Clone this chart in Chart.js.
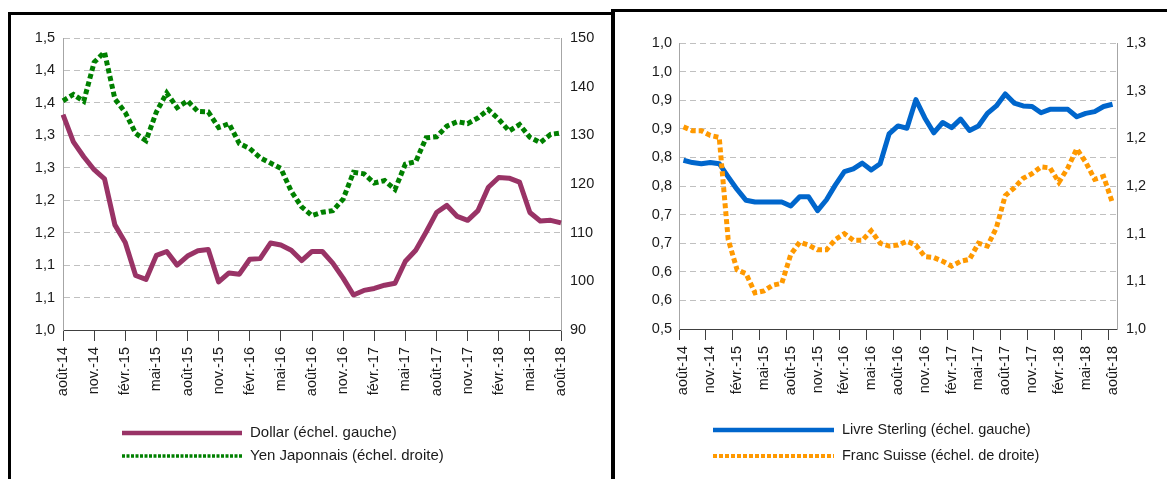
<!DOCTYPE html>
<html lang="fr">
<head>
<meta charset="utf-8">
<script src="https://cdn.jsdelivr.net/npm/chart.js@4.4.1/dist/chart.umd.min.js"></script>
<style>
html,body{margin:0;padding:0;background:#fff;}
body{width:1167px;height:479px;position:relative;overflow:hidden;}
.panel{position:absolute;}
.panel canvas{display:block;}
.rule{position:absolute;background:#000;z-index:2;}
</style>
</head>
<body>
<div class="panel" style="left:11px;top:15px;width:600px;height:464px;"><canvas id="usdJpy" width="600" height="464"></canvas></div>
<div class="panel" style="left:615px;top:12px;width:552px;height:467px;"><canvas id="gbpChf" width="552" height="467"></canvas></div>
<div class="rule" style="left:8px;top:12px;width:3px;height:467px;"></div>
<div class="rule" style="left:8px;top:12px;width:605px;height:3px;"></div>
<div class="rule" style="left:611px;top:9px;width:4px;height:470px;"></div>
<div class="rule" style="left:611px;top:9px;width:556px;height:3px;"></div>
<script>
// Monthly categories, août 2014 to août 2018
const months = ['août-14','sept.-14','oct.-14','nov.-14','déc.-14',
  'janv.-15','févr.-15','mars-15','avr.-15','mai-15','juin-15','juil.-15','août-15','sept.-15','oct.-15','nov.-15','déc.-15',
  'janv.-16','févr.-16','mars-16','avr.-16','mai-16','juin-16','juil.-16','août-16','sept.-16','oct.-16','nov.-16','déc.-16',
  'janv.-17','févr.-17','mars-17','avr.-17','mai-17','juin-17','juil.-17','août-17','sept.-17','oct.-17','nov.-17','déc.-17',
  'janv.-18','févr.-18','mars-18','avr.-18','mai-18','juin-18','juil.-18','août-18'];

// EUR exchange rates, monthly
const dollar = [1.332,1.290,1.267,1.247,1.233,
  1.162,1.135,1.084,1.078,1.115,1.121,1.100,1.114,1.122,1.124,1.074,1.088,
  1.086,1.109,1.110,1.134,1.131,1.123,1.107,1.121,1.121,1.103,1.080,1.054,
  1.061,1.064,1.069,1.072,1.106,1.123,1.151,1.181,1.192,1.175,1.169,1.184,
  1.220,1.235,1.234,1.228,1.181,1.168,1.169,1.165];
const yen = [137.1,138.4,137.0,145.0,147.1,
  137.5,134.7,130.4,128.9,134.8,138.7,135.7,137.1,134.9,134.8,131.6,132.4,
  128.3,127.3,125.4,124.3,123.2,118.5,115.3,113.5,114.2,114.5,116.9,122.4,
  122.1,120.2,120.7,118.9,124.1,124.6,129.5,129.7,131.9,132.8,132.4,133.6,
  135.3,133.3,130.9,132.2,129.6,128.5,130.2,130.5];
const sterling = [0.795,0.791,0.789,0.791,0.789,
  0.766,0.744,0.725,0.722,0.722,0.722,0.722,0.715,0.731,0.731,0.707,0.726,
  0.752,0.775,0.780,0.790,0.778,0.789,0.841,0.855,0.851,0.901,0.869,0.843,
  0.861,0.852,0.867,0.847,0.855,0.877,0.890,0.911,0.895,0.890,0.889,0.878,
  0.884,0.884,0.884,0.871,0.877,0.880,0.889,0.893];
const franc = [1.212,1.208,1.208,1.203,1.201,
  1.094,1.062,1.058,1.038,1.040,1.046,1.048,1.078,1.091,1.088,1.083,1.083,
  1.094,1.100,1.093,1.093,1.103,1.090,1.087,1.088,1.092,1.088,1.076,1.075,
  1.071,1.066,1.071,1.073,1.090,1.087,1.106,1.140,1.148,1.158,1.163,1.170,
  1.169,1.154,1.169,1.189,1.175,1.157,1.160,1.132];

// Axis ranges [min, max, step]
const dollarAxis = [1.0, 1.45, 0.05];
const yenAxis = [90, 150, 10];
const sterlingAxis = [0.5, 1.0, 0.05];
const francAxis = [1.0, 1.3, 0.05];

const FONT = 'Liberation Sans, Arial, sans-serif';
const TEXT = '#1a1a1a';
const TICK_EVERY = 3;

// one decimal, comma separator, half rounded up
const oneDecimal = v => (Math.round(v * 10 + 1e-6) / 10).toFixed(1).replace('.', ',');

// Legend drawn as line samples stacked under the chart
const lineLegend = {
  id: 'lineLegend',
  afterDraw(chart, args, opts) {
    const ctx = chart.ctx;
    ctx.save();
    chart.data.datasets.forEach((ds, k) => {
      const y = opts.y[k];
      ctx.beginPath();
      ctx.strokeStyle = ds.borderColor;
      ctx.lineWidth = opts.widths[k];
      ctx.lineCap = 'butt';
      ctx.setLineDash(opts.dashes[k]);
      ctx.moveTo(opts.x, y);
      ctx.lineTo(opts.x + opts.length, y);
      ctx.stroke();
      ctx.setLineDash([]);
      ctx.fillStyle = TEXT;
      ctx.font = opts.fontSize + 'px ' + FONT;
      ctx.textBaseline = 'middle';
      ctx.textAlign = 'left';
      ctx.fillText(ds.label, opts.x + opts.length + opts.gap, y);
    });
    ctx.restore();
  }
};

function xScale(offset, height) {
  return {
    type: 'category',
    offset: offset,
    grid: {
      display: true, drawOnChartArea: false, drawTicks: true, tickLength: 11, offset: offset,
      color: '#404040',
      tickColor: c => (c.index % TICK_EVERY === 0 ? '#404040' : 'rgba(0,0,0,0)')
    },
    border: { display: true, color: '#404040', width: 1 },
    ticks: {
      autoSkip: false, maxRotation: 90, minRotation: 90, padding: 6, color: TEXT,
      font: { family: FONT, size: 14.5 },
      callback(v, i) { return i % TICK_EVERY === 0 ? this.getLabelForValue(v) : ''; }
    },
    afterFit(s) { s.height = height; }
  };
}

function yScale(side, range, fmt, pad, width, withGrid) {
  return {
    position: side,
    min: range[0], max: range[1],
    ticks: { stepSize: range[2], padding: pad, color: TEXT, font: { family: FONT, size: 14.5 }, callback: fmt },
    grid: withGrid ? { color: '#c0c0c0', lineWidth: 1, drawTicks: false } : { display: false, drawTicks: false },
    border: { display: true, color: '#a6a6a6', width: 1, dash: [6, 4] },
    afterFit(s) { s.width = width; }
  };
}

function lineSet(label, data, axis, color, width, dash, order) {
  return {
    label: label, data: data, yAxisID: axis,
    borderColor: color, backgroundColor: color, borderWidth: width,
    borderDash: dash, borderCapStyle: 'butt', borderJoinStyle: dash.length ? 'miter' : 'round',
    pointRadius: 0, pointHoverRadius: 0, tension: 0, fill: false, order: order
  };
}

const common = {
  responsive: false,
  animation: false,
  events: [],
};

new Chart(document.getElementById('usdJpy'), {
  type: 'line',
  data: {
    labels: months,
    datasets: [
      lineSet('Dollar (échel. gauche)', dollar, 'y', '#993366', 5, [], 0),
      lineSet('Yen Japonnais (échel. droite)', yen, 'y2', '#008000', 5, [5, 3], 1)
    ]
  },
  options: Object.assign({}, common, {
    layout: { padding: { top: 23, left: 0, right: 0, bottom: 0 } },
    scales: {
      x: xScale(false, 149),
      y: yScale('left', dollarAxis, oneDecimal, 8, 52, true),
      y2: yScale('right', yenAxis, v => String(v), 9, 50, false)
    },
    plugins: {
      legend: { display: false },
      tooltip: { enabled: false },
      lineLegend: { x: 111, length: 120, gap: 8, y: [418, 441], widths: [4.5, 3.5], dashes: [[], [3, 1.5]], fontSize: 15 }
    }
  }),
  plugins: [lineLegend]
});

new Chart(document.getElementById('gbpChf'), {
  type: 'line',
  data: {
    labels: months,
    datasets: [
      lineSet('Livre Sterling (échel. gauche)', sterling, 'y', '#0066cc', 5, [], 1),
      lineSet('Franc Suisse (échel. de droite)', franc, 'y2', '#ff9900', 5, [5, 3], 0)
    ]
  },
  options: Object.assign({}, common, {
    layout: { padding: { top: 31, left: 0, right: 0, bottom: 0 } },
    scales: {
      x: xScale(true, 150),
      y: yScale('left', sterlingAxis, oneDecimal, 7, 64, true),
      y2: yScale('right', francAxis, oneDecimal, 9, 50, false)
    },
    plugins: {
      legend: { display: false },
      tooltip: { enabled: false },
      lineLegend: { x: 98, length: 121, gap: 8, y: [418, 444], widths: [4.5, 4], dashes: [[], [4, 2]], fontSize: 14.5 }
    }
  }),
  plugins: [lineLegend]
});
</script>
</body>
</html>
